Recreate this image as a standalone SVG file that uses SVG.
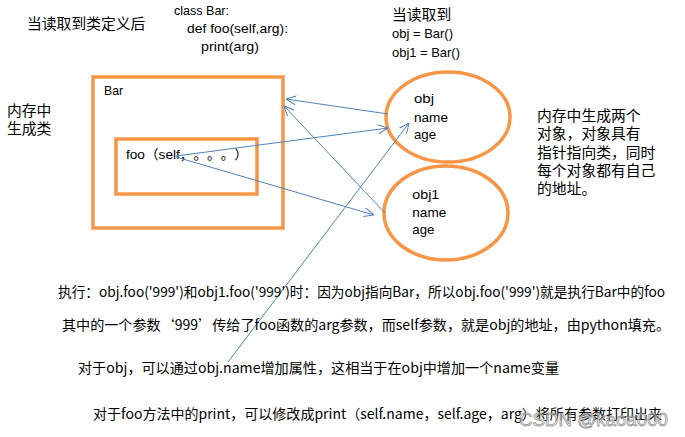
<svg xmlns="http://www.w3.org/2000/svg" width="685" height="437" viewBox="0 0 685 437">
<style>
  .t { font-family: "Liberation Sans", "Noto Sans CJK SC", sans-serif; fill: #000; text-spacing-trim: space-all; }
  .cjk { font-size: 14.8px; }
  .code { font-size: 13px; }
  .note { font-family: "Noto Sans CJK SC", "Liberation Sans", sans-serif; font-size: 14px; }
  .box { fill: none; stroke: #F79646; stroke-width: 3.5; }
  .conn { fill: none; stroke: #4F81BD; stroke-width: 1; }
  .wm { font-family: "Liberation Sans", sans-serif; font-size: 18.7px; fill: #ffffff; fill-opacity: 0.45; stroke: #8c8c8c; stroke-width: 0.9; stroke-opacity: 0.85; }
</style>
<defs>
  <marker id="arrow" viewBox="0 0 10 10" refX="10" refY="5" markerWidth="10" markerHeight="10" markerUnits="userSpaceOnUse" orient="auto">
    <path d="M0,0.5 L10,5 L0,9.5" fill="none" stroke="#4F81BD" stroke-width="1"/>
  </marker>
</defs>
<rect width="685" height="437" fill="#ffffff"/>

<g id="title-left">
  <text class="t cjk" x="27" y="29">当读取到类定义后</text>
</g>
<g id="code">
  <text class="t code" x="174" y="15" textLength="55" lengthAdjust="spacingAndGlyphs">class Bar:</text>
  <text class="t code" x="187" y="33" textLength="101" lengthAdjust="spacingAndGlyphs">def foo(self,arg):</text>
  <text class="t code" x="201" y="50.5" textLength="58" lengthAdjust="spacingAndGlyphs">print(arg)</text>
</g>
<g id="label-memory">
  <text class="t cjk" x="7" y="116">内存中</text>
  <text class="t cjk" x="7" y="134">生成类</text>
</g>

<g id="class-bar">
  <rect class="box" x="93" y="77" width="190" height="151"/>
  <text class="t code" x="104" y="95" textLength="19" lengthAdjust="spacingAndGlyphs">Bar</text>
</g>
<g id="method-foo">
  <rect class="box" x="116" y="139" width="141" height="55"/>
  <text class="t code" x="126" y="159" font-size="13.5" textLength="122" lengthAdjust="spacingAndGlyphs">foo（self，。。。）</text>
</g>

<g id="title-right">
  <text class="t cjk" x="392" y="19.5" font-size="14.5">当读取到</text>
  <text class="t code" x="392" y="38.3" textLength="61" lengthAdjust="spacingAndGlyphs">obj = Bar()</text>
  <text class="t code" x="392" y="56.7" textLength="68" lengthAdjust="spacingAndGlyphs">obj1 = Bar()</text>
</g>

<g id="obj">
  <ellipse class="box" cx="448" cy="117" rx="62" ry="45"/>
  <text class="t code" x="414" y="103.3" font-size="13.5" textLength="20" lengthAdjust="spacingAndGlyphs">obj</text>
  <text class="t code" x="414" y="121.7" font-size="13.5" textLength="34" lengthAdjust="spacingAndGlyphs">name</text>
  <text class="t code" x="414" y="139.3" font-size="13.5" textLength="22" lengthAdjust="spacingAndGlyphs">age</text>
</g>
<g id="obj1">
  <ellipse class="box" cx="446" cy="213" rx="62" ry="47"/>
  <text class="t code" x="412.3" y="199" font-size="13.5" textLength="27" lengthAdjust="spacingAndGlyphs">obj1</text>
  <text class="t code" x="412.3" y="216.7" font-size="13.5" textLength="34" lengthAdjust="spacingAndGlyphs">name</text>
  <text class="t code" x="412.3" y="234.3" font-size="13.5" textLength="22" lengthAdjust="spacingAndGlyphs">age</text>
</g>

<g id="note-right">
  <text class="t cjk" x="537" y="121">内存中生成两个</text>
  <text class="t cjk" x="537" y="139">对象，对象具有</text>
  <text class="t cjk" x="537" y="157.5">指针指向类，同时</text>
  <text class="t cjk" x="537" y="176">每个对象都有自己</text>
  <text class="t cjk" x="537" y="194">的地址。</text>
</g>

<g id="connectors">
  <line class="conn" x1="388" y1="114" x2="286" y2="99" marker-end="url(#arrow)"/>
  <line class="conn" x1="385" y1="213" x2="284" y2="106" marker-end="url(#arrow)"/>
  <line class="conn" x1="176" y1="156" x2="388" y2="128" marker-end="url(#arrow)"/>
  <line class="conn" x1="176" y1="157" x2="374" y2="215" marker-end="url(#arrow)"/>
  <line class="conn" x1="228" y1="362" x2="409" y2="123" marker-end="url(#arrow)"/>
</g>

<g id="notes-bottom">
  <text class="t note" x="58" y="297" textLength="607" lengthAdjust="spacingAndGlyphs">执行：obj.foo('999')和obj1.foo('999')时：因为obj指向Bar，所以obj.foo('999')就是执行Bar中的foo</text>
  <text class="t note" x="62" y="330" textLength="608" lengthAdjust="spacingAndGlyphs">其中的一个参数‘999’传给了foo函数的arg参数，而self参数，就是obj的地址，由python填充。</text>
  <text class="t note" x="78" y="373" textLength="481" lengthAdjust="spacingAndGlyphs">对于obj，可以通过obj.name增加属性，这相当于在obj中增加一个name变量</text>
  <text class="t note" x="93" y="419" textLength="569" lengthAdjust="spacingAndGlyphs">对于foo方法中的print，可以修改成print（self.name，self.age，arg）将所有参数打印出来</text>
</g>

<g id="watermark">
  <text class="wm" x="519" y="426" textLength="149" lengthAdjust="spacingAndGlyphs">CSDN @kaoa000</text>
</g>
</svg>
